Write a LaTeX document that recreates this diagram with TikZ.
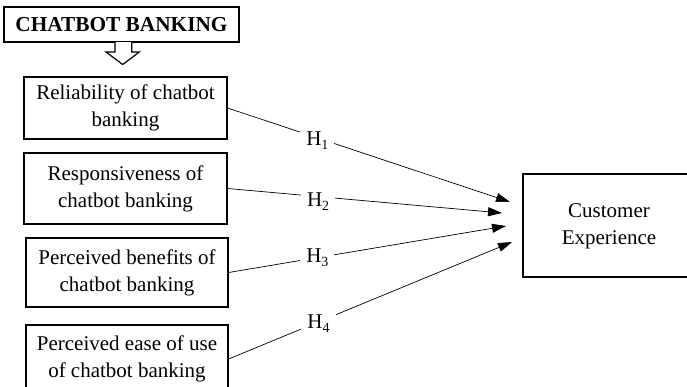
\documentclass[tikz,border=0pt]{standalone}
\usepackage{fontspec}
\setmainfont{Liberation Serif}
\usetikzlibrary{arrows.meta}
\newcommand{\hyp}[1]{H\raisebox{-0.2em}{\fontsize{14}{14}\selectfont #1}}
\begin{document}
\begin{tikzpicture}[x=1pt,y=-1pt,
  every node/.style={font=\fontsize{21}{27}\selectfont},
  box/.style={draw, line width=1.2pt, align=center, inner sep=0pt, text=black},
  link/.style={line width=0.7pt, -{Triangle[length=14pt,width=9pt]}},
  hlab/.style={fill=white, inner sep=6pt, text=black}]
\useasboundingbox (0,0) rectangle (687,386);
\node[box, font=\fontsize{21.3}{27}\selectfont\bfseries, minimum width=235pt, minimum height=35pt] (title) at (121.5,24.5) {CHATBOT BANKING};
\draw[line width=1.2pt, fill=white] (115,42) -- (115,52) -- (106,52) -- (122.7,64.5) -- (139.3,52) -- (131.7,52) -- (131.7,42);
\node[box, minimum width=203pt, minimum height=62pt] (b1) at (125.5,108) {Reliability of chatbot\\banking};
\node[box, minimum width=203pt, minimum height=71pt] (b2) at (125.5,188.5) {Responsiveness of\\chatbot banking};
\node[box, minimum width=202pt, minimum height=69pt] (b3) at (127,272.5) {Perceived benefits of\\chatbot banking};
\node[box, minimum width=202pt, minimum height=68pt] (b4) at (127,359) {Perceived ease of use\\of chatbot banking};
\node[box, minimum width=180pt, minimum height=103pt, xshift=4pt] (ce) at (609,225.5) {\hspace*{-8pt}\begin{tabular}{@{}c@{}}Customer\\Experience\end{tabular}};
\coordinate (t1) at (510,202);
\coordinate (t2) at (502,213);
\coordinate (t3) at (506,226);
\coordinate (t4) at (512,242);
\draw[link] (b1.east) -- node[hlab, pos=0.318, yshift=-3pt] {\hyp{1}} (t1);
\draw[link] (b2.east) -- node[hlab, pos=0.33, yshift=-5pt] {\hyp{2}} (t2);
\draw[link] (b3.east) -- node[hlab, pos=0.32] {\hyp{3}} (t3);
\draw[link] (b4.east) -- node[hlab, pos=0.317, yshift=-2pt] {\hyp{4}} (t4);
\end{tikzpicture}
\end{document}
